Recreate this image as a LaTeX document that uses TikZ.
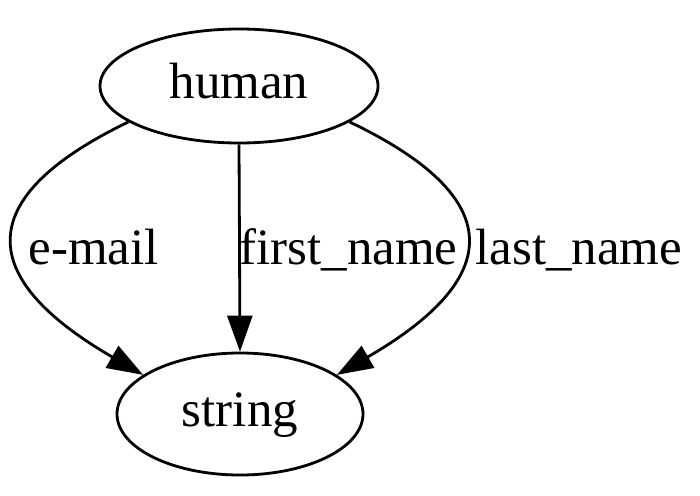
\documentclass[tikz,border=0pt]{standalone}
\usepackage{fontspec}
\setmainfont{Liberation Serif}
\usetikzlibrary{shapes.geometric,arrows.meta}

\begin{document}
\begin{tikzpicture}[x=1pt, y=-1pt, line width=2.8pt,
    every node/.style={font=\fontsize{51}{60}\selectfont, inner sep=0pt},
    entidade/.style={ellipse, draw, text height=35pt, text depth=11pt},
    seta/.style={-{Triangle[length=36pt,width=25pt]}}]
\useasboundingbox (0,0) rectangle (700,495);
% Nos
\node[entidade, minimum width=278pt, minimum height=114pt] (human) at (239,86) {human};
\node[entidade, minimum width=246pt, minimum height=122pt] (string) at (240,414) {string};
% Arestas
\draw[seta] (human.198) .. controls (-64,215) and (14,300) .. (string.158);
\draw[seta] (human.south) -- (string.north);
\draw[seta] (human.-18) .. controls (544,215) and (466,300) .. (string.22);
% Rotulos
\node[anchor=base west] (lemail) at (27,264) {e-mail};
\node[anchor=base west] (lfirst) at (238,264) {first\_name};
\node[anchor=base west] (llast) at (474,264) {last\_name};
\end{tikzpicture}
\end{document}
